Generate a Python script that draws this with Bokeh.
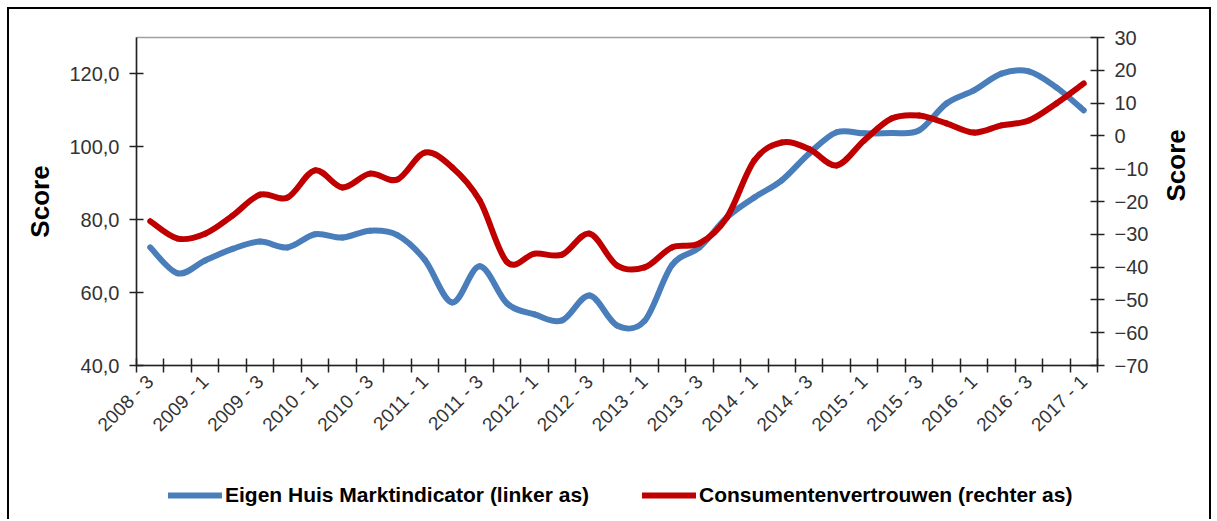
from math import pi
from bokeh.plotting import figure
from bokeh.layouts import column
from bokeh.models import Range1d, LinearAxis, FixedTicker, Legend, LegendItem, ColumnDataSource
from bokeh.embed import file_html
from bokeh.resources import INLINE

quarters = [
    "2008 - 3", "2008 - 4", "2009 - 1", "2009 - 2", "2009 - 3", "2009 - 4",
    "2010 - 1", "2010 - 2", "2010 - 3", "2010 - 4", "2011 - 1", "2011 - 2",
    "2011 - 3", "2011 - 4", "2012 - 1", "2012 - 2", "2012 - 3", "2012 - 4",
    "2013 - 1", "2013 - 2", "2013 - 3", "2013 - 4", "2014 - 1", "2014 - 2",
    "2014 - 3", "2014 - 4", "2015 - 1", "2015 - 2", "2015 - 3", "2015 - 4",
    "2016 - 1", "2016 - 2", "2016 - 3", "2016 - 4", "2017 - 1",
]
eigen_huis = [
    72.4, 65.3, 68.8, 72.0, 74.0, 72.4, 76.0, 75.1, 77.0, 75.8,
    69.0, 57.3, 67.2, 57.0, 54.0, 52.4, 59.2, 51.0, 52.2, 67.5,
    72.4, 80.6, 86.1, 90.8, 98.2, 104.0, 103.7, 103.8, 104.5, 111.9,
    115.5, 120.1, 120.7, 116.3, 110.0,
]
consument = [
    -26.0, -31.3, -29.8, -24.3, -17.9, -18.8, -10.5, -15.7, -11.5, -13.3,
    -5.1, -9.6, -19.7, -38.5, -35.9, -36.2, -29.8, -39.5, -40.1, -34.0,
    -32.8, -24.9, -7.5, -2.0, -4.0, -9.0, -1.4, 5.3, 6.2, 3.8,
    1.0, 3.2, 4.7, 9.9, 16.0,
]
left_ticks = [40, 60, 80, 100, 120]
right_ticks = [-70, -60, -50, -40, -30, -20, -10, 0, 10, 20, 30]
series_names = ["Eigen Huis Marktindicator (linker as)", "Consumentenvertrouwen (rechter as)"]

BLUE = "#4A7EBB"
RED = "#C00000"
FONT = "Liberation Sans"

n = len(quarters)
xs = [i + 0.5 for i in range(n)]


def smooth_segments(x, y):
    # Bezier control points (Catmull-Rom style smoothing, like a smoothed line)
    d = dict(x0=[], y0=[], x1=[], y1=[], cx0=[], cy0=[], cx1=[], cy1=[])
    m = len(x)
    for i in range(m - 1):
        ip = max(i - 1, 0)
        inn = min(i + 2, m - 1)
        d["x0"].append(x[i]); d["y0"].append(y[i])
        d["x1"].append(x[i + 1]); d["y1"].append(y[i + 1])
        d["cx0"].append(x[i] + (x[i + 1] - x[ip]) / 6.0)
        d["cy0"].append(y[i] + (y[i + 1] - y[ip]) / 6.0)
        d["cx1"].append(x[i + 1] - (x[inn] - x[i]) / 6.0)
        d["cy1"].append(y[i + 1] - (y[inn] - y[i]) / 6.0)
    return ColumnDataSource(d)


p = figure(width=1200, height=440, output_backend="svg", toolbar_location=None,
           x_range=Range1d(0, n), y_range=Range1d(40, 130),
           min_border_left=127, min_border_right=111, min_border_top=28,
           min_border_bottom=84)
p.extra_y_ranges = {"right": Range1d(-70, 30)}
p.grid.visible = False
p.outline_line_color = "#A0A0A0"
p.outline_line_width = 1.5
p.background_fill_color = "white"
p.border_fill_color = "white"

# x axis
xa = p.xaxis[0]
xa.ticker = FixedTicker(ticks=[xs[i] for i in range(0, n, 2)], minor_ticks=list(range(n + 1)))
xa.major_label_overrides = {xs[i]: quarters[i] for i in range(0, n, 2)}
xa.major_label_orientation = pi / 4
xa.major_tick_line_color = None
xa.minor_tick_in = 7
xa.minor_tick_out = 7
xa.minor_tick_line_color = "#222222"
xa.minor_tick_line_width = 1.5
xa.axis_line_color = "#222222"
xa.axis_line_width = 1.5
xa.major_label_text_font = FONT
xa.major_label_text_font_size = "19px"
xa.major_label_text_color = "#333333"
xa.major_label_standoff = 6

# left axis
ya = p.yaxis[0]
ya.ticker = FixedTicker(ticks=left_ticks)
ya.major_label_overrides = {t: f"{t},0" for t in left_ticks}
ya.axis_label = "Score"

ra = LinearAxis(y_range_name="right", ticker=FixedTicker(ticks=right_ticks), axis_label="Score")
p.add_layout(ra, "right")

for ax in (ya, ra):
    ax.minor_tick_line_color = None
    ax.major_tick_in = 7
    ax.major_tick_out = 7
    ax.major_tick_line_color = "#222222"
    ax.major_tick_line_width = 1.5
    ax.axis_line_color = "#222222"
    ax.axis_line_width = 1.5
    ax.major_label_text_font = FONT
    ax.major_label_text_font_size = "20px"
    ax.major_label_text_color = "#333333"
    ax.major_label_standoff = 10
    ax.axis_label_text_font = FONT
    ax.axis_label_text_font_size = "26px"
    ax.axis_label_text_font_style = "bold"
    ax.axis_label_text_color = "black"
ya.axis_label_standoff = 11
ra.axis_label_standoff = 25
ra.axis_label_orientation = pi / 2

src_b = smooth_segments(xs, eigen_huis)
src_r = smooth_segments(xs, consument)
p.bezier(x0="x0", y0="y0", x1="x1", y1="y1", cx0="cx0", cy0="cy0", cx1="cx1", cy1="cy1",
         source=src_b, line_color=BLUE, line_width=6, line_cap="round")
p.bezier(x0="x0", y0="y0", x1="x1", y1="y1", cx0="cx0", cy0="cy0", cx1="cx1", cy1="cy1",
         source=src_r, line_color=RED, line_width=6, line_cap="round", y_range_name="right")

# legend strip below the chart (its frame is aligned with the main frame)
lg = figure(width=1200, height=70, output_backend="svg", toolbar_location=None,
            x_range=Range1d(0, 1), y_range=Range1d(0, 1),
            min_border_left=0, min_border_right=0, min_border_top=0, min_border_bottom=0)
lg.axis.visible = False
lg.grid.visible = False
lg.outline_line_color = None
lg.border_fill_color = "white"
nan = float("nan")
lb = lg.line(x=[nan], y=[nan], line_color=BLUE, line_width=6, line_cap="round")
lr = lg.line(x=[nan], y=[nan], line_color=RED, line_width=6, line_cap="round")

for rend, label, loc in ((lb, series_names[0], (32, 12)), (lr, series_names[1], (506, 12))):
    leg = Legend(items=[LegendItem(label=label, renderers=[rend])], location=loc,
                 orientation="horizontal", glyph_width=54, glyph_height=20,
                 label_height=20, label_standoff=3, padding=0, margin=0,
                 border_line_color=None, background_fill_alpha=0,
                 label_text_font=FONT, label_text_font_size="21px",
                 label_text_font_style="bold", label_text_color="black")
    lg.add_layout(leg, "center")

layout = column(p, lg, spacing=0,
                styles={"border": "2px solid black", "border-bottom": "none",
                        "margin-left": "7px", "margin-top": "7px"})

open("out.html", "w").write(file_html(layout, INLINE))
